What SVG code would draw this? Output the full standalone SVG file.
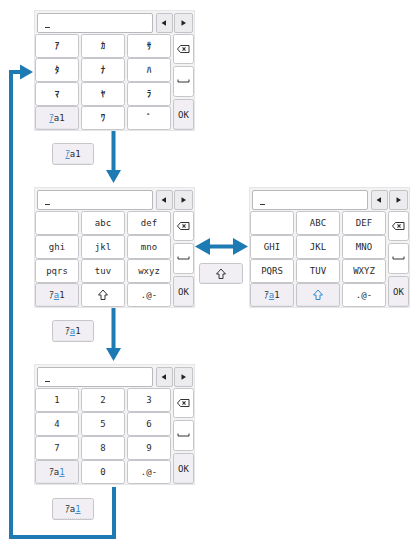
<svg xmlns="http://www.w3.org/2000/svg" xmlns:xlink="http://www.w3.org/1999/xlink" width="417" height="547" viewBox="0 0 417 547">
<style>
.panel{fill:#f3f3f4;stroke:#e6e6e8;stroke-width:1}
.inp{fill:#fff;stroke:#b9b9bd;stroke-width:1}
.ab{fill:#ececee;stroke:#c4c4c8;stroke-width:1}
.k{fill:#fff;stroke:#c6c6ca;stroke-width:1}
.kg{fill:#f1eff4;stroke:#c6c6ca;stroke-width:1}
.dot{stroke:#c9c9cd;stroke-width:1;stroke-dasharray:1 1;fill:none}
.t{font-family:"DejaVu Sans Mono","Noto Sans CJK JP",monospace;font-size:9px;fill:#2a2a2a;text-anchor:middle}
.kt{font-family:"Noto Sans CJK JP",sans-serif;font-weight:bold}
.hl{fill:#2f8ad0;text-decoration:underline}
.ic{fill:none;stroke:#333;stroke-width:1}
.con{fill:none;stroke:#1e7ab3;stroke-width:4}
.head{fill:#1e7ab3}
</style>
<defs>
<g id="frame">
<rect class="panel" x="0.5" y="0.5" width="160" height="120"/>
<rect class="inp" x="3.5" y="3.5" width="115" height="19" rx="1.5"/>
<line x1="11" y1="17.5" x2="16" y2="17.5" stroke="#333" stroke-width="1"/>
<rect class="ab" x="122.5" y="3.5" width="16" height="19" rx="1.5"/>
<polygon points="127.5,13 132,10.2 132,15.8" fill="#222"/>
<rect class="ab" x="140.5" y="3.5" width="18" height="19" rx="1.5"/>
<polygon points="152,13 147.5,10.2 147.5,15.8" fill="#222"/>
<rect class="k" x="1.5" y="24.5" width="43" height="23" rx="2"/>
<rect class="k" x="47.5" y="24.5" width="43" height="23" rx="2"/>
<rect class="k" x="93.5" y="24.5" width="43" height="23" rx="2"/>
<rect class="k" x="1.5" y="48.5" width="43" height="23" rx="2"/>
<rect class="k" x="47.5" y="48.5" width="43" height="23" rx="2"/>
<rect class="k" x="93.5" y="48.5" width="43" height="23" rx="2"/>
<rect class="k" x="1.5" y="72.5" width="43" height="23" rx="2"/>
<rect class="k" x="47.5" y="72.5" width="43" height="23" rx="2"/>
<rect class="k" x="93.5" y="72.5" width="43" height="23" rx="2"/>
<rect class="kg" x="1.5" y="96.5" width="43" height="23" rx="2"/>
<line class="dot" x1="3" y1="119" x2="43" y2="119"/>
<rect class="k" x="47.5" y="96.5" width="43" height="23" rx="2"/>
<rect class="k" x="93.5" y="96.5" width="43" height="23" rx="2"/>
<rect class="k" x="139.5" y="24.5" width="20" height="29" rx="2"/>
<path class="ic" d="M143.5,39 L146.5,35.5 H155 V42.5 H146.5 Z"/>
<path d="M148.5,37.3 L151.5,40.7 M151.5,37.3 L148.5,40.7" stroke="#333" stroke-width="1.1"/>
<rect class="k" x="139.5" y="56.5" width="20" height="30" rx="2"/>
<path class="ic" d="M144,69.5 V72 H155 V69.5"/>
<rect class="kg" x="139.5" y="89.5" width="20" height="30" rx="2"/>
<line class="dot" x1="141" y1="119" x2="158" y2="119"/>
<text class="t" x="149.5" y="107.5">OK</text>
</g>
<g id="btn">
<rect class="kg" x="0.5" y="0.5" width="41" height="21" rx="2"/>
<line class="dot" x1="2" y1="21" x2="40" y2="21"/>
</g>
<path id="shift" d="M0,-5 L4.5,0 H2 V4.5 H-2 V0 H-4.5 Z"/>
</defs>

<g id="connectors">
<path class="con" d="M114,487 V537 H11 V72 H21"/>
<polygon class="head" points="33,72 20,64.5 20,79.5"/>
<line class="con" x1="113.5" y1="131" x2="113.5" y2="171"/>
<polygon class="head" points="113.5,183 106,170 121,170"/>
<line class="con" x1="113.5" y1="308" x2="113.5" y2="349"/>
<polygon class="head" points="113.5,361 106,348 121,348"/>
<line class="con" x1="208" y1="246.5" x2="235" y2="246.5"/>
<polygon class="head" points="195,246.5 210,238 210,255"/>
<polygon class="head" points="248,246.5 233,238 233,255"/>
</g>

<g id="kb-katakana" transform="translate(34,10)">
<use xlink:href="#frame"/>
<text class="t kt" x="23" y="39">ｱ</text>
<text class="t kt" x="69" y="39">ｶ</text>
<text class="t kt" x="115" y="39">ｻ</text>
<text class="t kt" x="23" y="63">ﾀ</text>
<text class="t kt" x="69" y="63">ﾅ</text>
<text class="t kt" x="115" y="63">ﾊ</text>
<text class="t kt" x="23" y="87">ﾏ</text>
<text class="t kt" x="69" y="87">ﾔ</text>
<text class="t kt" x="115" y="87">ﾗ</text>
<text class="t" x="23" y="111"><tspan class="hl">ｱ</tspan>a1</text>
<text class="t kt" x="69" y="111">ﾜ</text>
<text class="t kt" x="115" y="111">ﾞ</text>
</g>

<g id="btn-1" transform="translate(52,143)">
<use xlink:href="#btn"/>
<text class="t" x="21" y="14"><tspan class="hl">ｱ</tspan>a1</text>
</g>

<g id="kb-lower" transform="translate(34,187)">
<use xlink:href="#frame"/>
<text class="t" x="69" y="39">abc</text>
<text class="t" x="115" y="39">def</text>
<text class="t" x="23" y="63">ghi</text>
<text class="t" x="69" y="63">jkl</text>
<text class="t" x="115" y="63">mno</text>
<text class="t" x="23" y="87">pqrs</text>
<text class="t" x="69" y="87">tuv</text>
<text class="t" x="115" y="87">wxyz</text>
<text class="t" x="23" y="111">ｱ<tspan class="hl">a</tspan>1</text>
<use xlink:href="#shift" x="69" y="108" class="ic"/>
<text class="t" x="115" y="111">.@-</text>
</g>

<g id="btn-shift" transform="translate(199,263)">
<rect class="kg" x="0.5" y="0.5" width="43" height="20" rx="2"/>
<line class="dot" x1="2" y1="20" x2="42" y2="20"/>
<use xlink:href="#shift" x="22" y="11" class="ic"/>
</g>

<g id="kb-upper" transform="translate(249,187)">
<use xlink:href="#frame"/>
<text class="t" x="69" y="39">ABC</text>
<text class="t" x="115" y="39">DEF</text>
<text class="t" x="23" y="63">GHI</text>
<text class="t" x="69" y="63">JKL</text>
<text class="t" x="115" y="63">MNO</text>
<text class="t" x="23" y="87">PQRS</text>
<text class="t" x="69" y="87">TUV</text>
<text class="t" x="115" y="87">WXYZ</text>
<text class="t" x="23" y="111">ｱ<tspan class="hl">a</tspan>1</text>
<rect class="kg" x="47.5" y="96.5" width="43" height="23" rx="2"/>
<line class="dot" x1="49" y1="119" x2="89" y2="119"/>
<use xlink:href="#shift" x="69" y="108" fill="none" stroke="#2f8ad0" stroke-width="1"/>
<text class="t" x="115" y="111">.@-</text>
</g>

<g id="btn-2" transform="translate(52,320)">
<use xlink:href="#btn"/>
<text class="t" x="21" y="14">ｱ<tspan class="hl">a</tspan>1</text>
</g>

<g id="kb-numeric" transform="translate(34,364)">
<use xlink:href="#frame"/>
<text class="t" x="23" y="39">1</text>
<text class="t" x="69" y="39">2</text>
<text class="t" x="115" y="39">3</text>
<text class="t" x="23" y="63">4</text>
<text class="t" x="69" y="63">5</text>
<text class="t" x="115" y="63">6</text>
<text class="t" x="23" y="87">7</text>
<text class="t" x="69" y="87">8</text>
<text class="t" x="115" y="87">9</text>
<text class="t" x="23" y="111">ｱa<tspan class="hl">1</tspan></text>
<text class="t" x="69" y="111">0</text>
<text class="t" x="115" y="111">.@-</text>
</g>

<g id="btn-3" transform="translate(52,498)">
<use xlink:href="#btn"/>
<text class="t" x="21" y="14">ｱa<tspan class="hl">1</tspan></text>
</g>
</svg>
